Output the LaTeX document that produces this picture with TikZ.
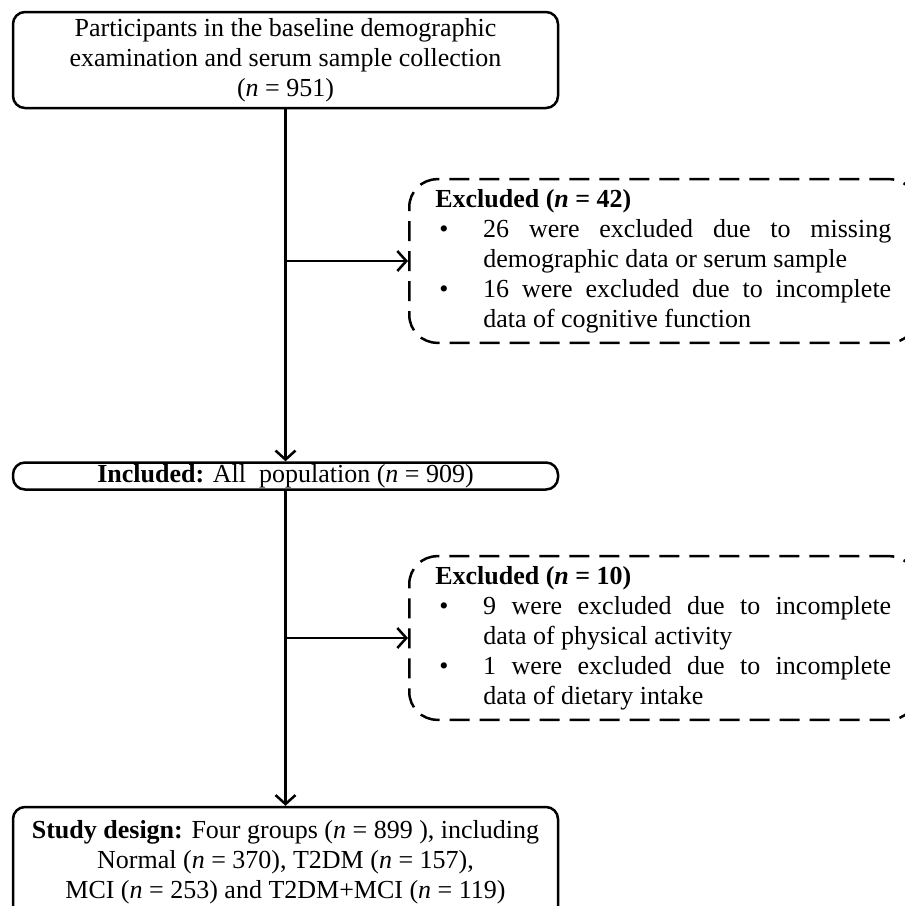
\documentclass[tikz,border=0pt]{standalone}
\usepackage{fontspec}
\setmainfont{Liberation Serif}
\usetikzlibrary{arrows.meta}
\tolerance=9999
\hyphenpenalty=10000
% one bullet line with hanging indent
\newcommand{\bul}{\par\noindent\hangindent=48pt\hangafter=1\makebox[48pt][l]{\hspace{4pt}\textbullet}}
\begin{document}
\begin{tikzpicture}[x=1pt,y=-1pt,
  solidbox/.style={draw,line width=2.5pt,rounded corners=12pt,minimum width=545pt,
    align=center,font=\fontsize{26}{30}\selectfont},
  dashbox/.style={draw,line width=2.5pt,dash pattern=on 20pt off 10pt,rounded corners=28pt,
    text width=456pt,inner xsep=26pt,inner ysep=10pt,align=justify,
    font=\fontsize{26}{30}\selectfont},
  flow/.style={line width=2.5pt,-{Straight Barb[length=9pt,width=20pt,line width=2.5pt]}}]
  \useasboundingbox (0,0) rectangle (905,906);
  \node[solidbox,minimum height=96pt] (part) at (285.5,60)
    {Participants in the baseline demographic\\examination and serum sample collection\\(\textit{n} = 951)};
  \node[solidbox,minimum height=27pt,inner ysep=1pt] (incl) at (285.5,476)
    {\textbf{Included:} All\ \ population (\textit{n} = 909)};
  \node[solidbox,minimum height=111pt] (design) at (285.5,862.5)
    {\textbf{Study design:} Four groups (\textit{n} = 899 ), including\\
     Normal (\textit{n} = 370), T2DM (\textit{n} = 157),\\
     MCI (\textit{n} = 253) and T2DM+MCI (\textit{n} = 119)};
  \node[dashbox,anchor=west] (excl1) at (408,261)
    {\textbf{Excluded (\textit{n} = 42)}
     \bul 26 were excluded due to missing\linebreak demographic data or serum sample
     \bul 16 were excluded due to incomplete\linebreak data of cognitive function\par};
  \node[dashbox,anchor=west] (excl2) at (408,638)
    {\textbf{Excluded (\textit{n} = 10)}
     \bul 9 were excluded due to incomplete\linebreak data of physical activity
     \bul 1 were excluded due to incomplete\linebreak data of dietary intake\par};
  \draw[flow] (part.south) -- (incl.north);
  \draw[flow] (part.south |- excl1.west) -- (excl1.west);
  \draw[flow] (incl.south) -- (design.north);
  \draw[flow] (incl.south |- excl2.west) -- (excl2.west);
\end{tikzpicture}
\end{document}
